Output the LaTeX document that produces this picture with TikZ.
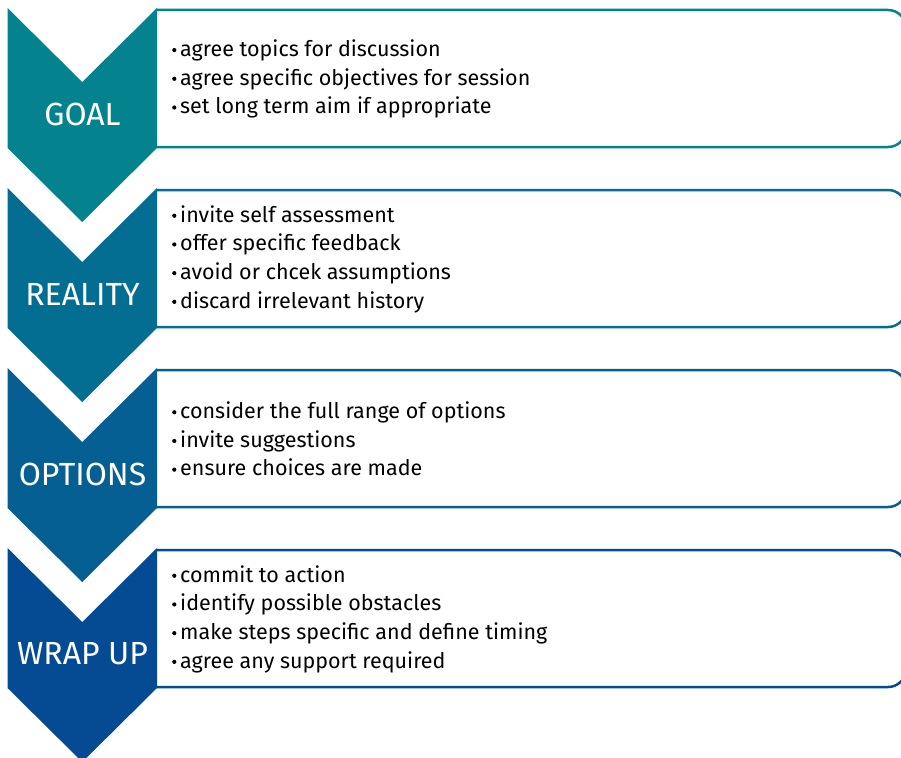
\documentclass[tikz,border=0pt]{standalone}
\usepackage{fontspec}
\setmainfont{Fira Sans}
\definecolor{cgoal}{HTML}{04838F}
\definecolor{creal}{HTML}{036E92}
\definecolor{copt}{HTML}{055F93}
\definecolor{cwrap}{HTML}{054B94}
% small round bullet set at mid x-height, then the item text
\newcommand{\bitem}{\makebox[8pt][l]{\tikz[baseline=0pt]\fill (2.2pt,6.3pt) circle[radius=2.1pt];}}
\tikzset{
  panel/.style={draw=#1, line width=2.5pt, fill=white, rounded corners=18pt},
  chev/.style={fill=#1},
  stage/.style={text=white, font=\fontsize{32}{32}\selectfont, anchor=center, inner sep=0pt},
  items/.style={anchor=west, align=left, inner sep=0pt, font=\fontsize{21.5}{28.7}\selectfont}
}
\begin{document}
\begin{tikzpicture}[x=1pt, y=-1pt]
\useasboundingbox (0,0) rectangle (901,757);
\clip (0,0) rectangle (901,757);
\fill[white] (0,0) rectangle (901,757);
\foreach \t/\c/\name/\lbl/\body in {
  8/cgoal/goal/GOAL/{\bitem agree topics for discussion\\\bitem agree specific objectives for session\\\bitem set long term aim if appropriate},
  188/creal/reality/REALITY/{\bitem invite self assessment\\\bitem offer specific feedback\\\bitem avoid or chcek assumptions\\\bitem discard irrelevant history},
  368/copt/options/OPTIONS/{\bitem consider the full range of options\\\bitem invite suggestions\\\bitem ensure choices are made},
  548/cwrap/wrap/WRAP UP/{\bitem commit to action\\\bitem identify possible obstacles\\\bitem make steps specific and define timing\\\bitem agree any support required}}
{
  % outlined panel, square on the left and rounded on the right
  \draw[panel=\c] (157,\t+2) -- (906,\t+2) -- (906,\t+139) -- (157,\t+139);
  % downward chevron
  \fill[chev=\c] (7.5,\t) -- (82.25,\t+74) -- (157,\t) -- (157,\t+140)
        -- (82.25,\t+214) -- (7.5,\t+140) -- cycle;
  \node[stage] (\name-label) at (82.5,\t+106) {\lbl};
  \node[items] (\name-items) at (172,\t+71) {\body};
}
\end{tikzpicture}
\end{document}
